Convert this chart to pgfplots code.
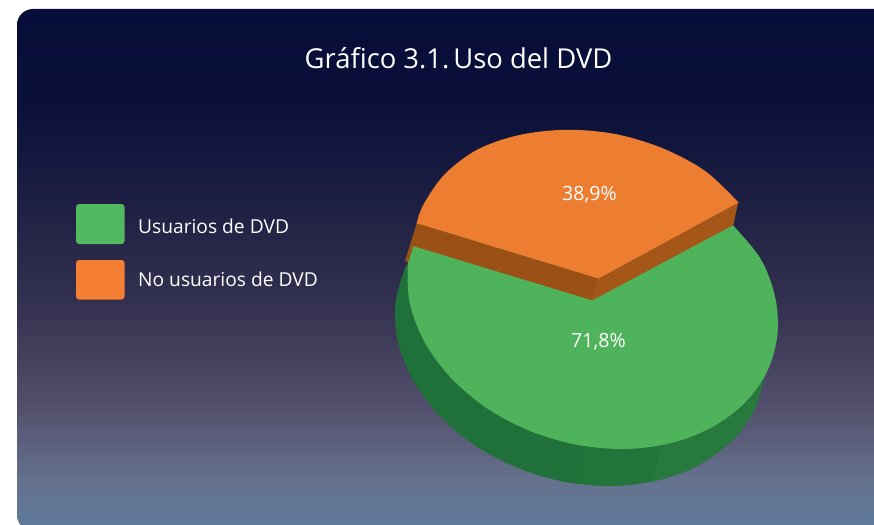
\documentclass[border=0pt]{standalone}
\usepackage{fontspec}
\setmainfont{Open Sans}
\usepackage{pgfplots}
\pgfplotsset{compat=1.18}
\definecolor{gtop}{HTML}{4EB35A}
\definecolor{gside}{HTML}{22743A}
\definecolor{gsideL}{HTML}{20703A}
\definecolor{gsideM}{HTML}{21723A}
\definecolor{gsideR}{HTML}{27793E}
\definecolor{otop}{HTML}{ED7D31}
\definecolor{osideL}{HTML}{9B5015}
\definecolor{osideR}{HTML}{A45718}
\definecolor{legG}{HTML}{52B960}
\definecolor{legO}{HTML}{F58034}
\pgfdeclareverticalshading{bgshade}{100bp}{
 rgb(0bp)=(0.369,0.482,0.608);
 rgb(25bp)=(0.369,0.482,0.608);
 rgb(30bp)=(0.396,0.443,0.553);
 rgb(37bp)=(0.322,0.310,0.424);
 rgb(47bp)=(0.200,0.192,0.310);
 rgb(57bp)=(0.110,0.118,0.259);
 rgb(66bp)=(0.039,0.063,0.224);
 rgb(75bp)=(0.024,0.051,0.220);
 rgb(100bp)=(0.024,0.051,0.220)}
\begin{document}
\begin{tikzpicture}[x=1pt,y=1pt]
\useasboundingbox (0,0) rectangle (874,524);
\begin{axis}[at={(0,0)},anchor=south west,scale only axis,width=874pt,height=524pt,
 xmin=0,xmax=874,ymin=0,ymax=524,y dir=reverse,axis lines=none,clip=true,
 tension=0.55]
% panel
\path[shading=bgshade,rounded corners=16pt] (axis cs:17,9) -- (axis cs:890,9) -- (axis cs:890,531) -- (axis cs:17,531) -- cycle;
% green side
\addplot[fill=gside,draw=none,smooth] coordinates {(406.1,265.6)(395.7,301.8)(397.8,340.4)(412.4,378.8)(438.4,414.3)(474.1,444.7)(517.1,467.6)(564.4,481.7)(612.7,486)(658.9,480.1)(699.7,464.4)(732.4,440.2)(754.8,409)(765.3,372.8)};
% left shade
\addplot[fill=gsideL,draw=none,smooth] coordinates {(406.1,265.6)(395.7,301.8)(397.8,340.4)(412.4,378.8)(438.4,414.3)(474.1,444.7)(517.1,467.6)};
\addplot[fill=gsideL,draw=gsideL,line width=0.3pt] coordinates {(517.1,467.6)(527,429)(430,310)(406.1,265.6)};
% middle shade
\addplot[fill=gsideM,draw=none,smooth] coordinates {(517.1,467.6)(540,475.5)(564.4,481.7)(577,483.6)};
\addplot[fill=gsideM,draw=gsideM,line width=0.3pt] coordinates {(517.1,467.6)(527,429)(587,446)(577,483.6)};
% right shade
\addplot[fill=gsideR,draw=none,smooth] coordinates {(651.7,481.6)(680,473.5)(699.7,464.4)(732.4,440.2)(754.8,409)(765.3,372.8)};
\addplot[fill=gsideR,draw=gsideR,line width=0.3pt] coordinates {(651.7,481.6)(663.3,446)(740,380)(765.3,372.8)};
% green top
\addplot[fill=gtop,draw=none,smooth] coordinates {(732.7,225)(760.6,258.8)(775.2,297.2)(777.3,335.8)(766.8,372)(744.4,403.2)(711.7,427.4)(670.9,443.1)(624.7,449)(576.4,444.7)(529.1,430.6)(486.1,407.7)(450.4,377.3)(424.4,341.8)(409.8,303.4)(407.7,264.8)(411,246)};
\addplot[fill=gtop,draw=gtop,line width=0.3pt] coordinates {(592.3,300.3)(732.7,225)(640,350)(500,340)(411,246)};
% orange sides
\addplot[fill=osideL,draw=none] coordinates {(416.7,223.3)(598.3,278.3)(592.3,300.3)(413.3,246)(408.3,262)(405,261)};
\addplot[fill=osideR,draw=none] coordinates {(598.3,278.3)(738.3,202.3)(733.3,225)(592.3,300.3)};
% orange top
\addplot[fill=otop,draw=none,smooth] coordinates {(738.3,202.3)(705,170.9)(662,148)(614.6,133.9)(566.2,129.8)(519.5,135)(477.5,149.5)(444.5,174.5)(423.5,204.5)(416.7,223.3)};
\addplot[fill=otop,draw=otop,line width=0.3pt] coordinates {(598.3,278.3)(738.3,202.3)(573,170)(416.7,223.3)};
% legend swatches
\fill[legG,rounded corners=3pt] (axis cs:76,204) rectangle (axis cs:124.5,244);
\fill[legO,rounded corners=3pt] (axis cs:76,260) rectangle (axis cs:124.5,299.5);
% text
\node[white,font=\fontsize{27.4}{30}\selectfont] at (axis cs:458.5,58) {Gráfico 3.1.\hspace{-0.2em} Uso del DVD};
\node[white,anchor=west,inner sep=0pt,font=\fontsize{19.2}{24}\selectfont] at (axis cs:138,226) {Usuarios de DVD};
\node[white,anchor=west,inner sep=0pt,font=\fontsize{19.2}{24}\selectfont] at (axis cs:138,279) {No usuarios de DVD};
\node[white,font=\fontsize{19.6}{24}\selectfont] at (axis cs:589.5,195) {38,9\%};
\node[white,font=\fontsize{19.6}{24}\selectfont] at (axis cs:598.5,342) {71,8\%};
\end{axis}
\end{tikzpicture}
\end{document}
